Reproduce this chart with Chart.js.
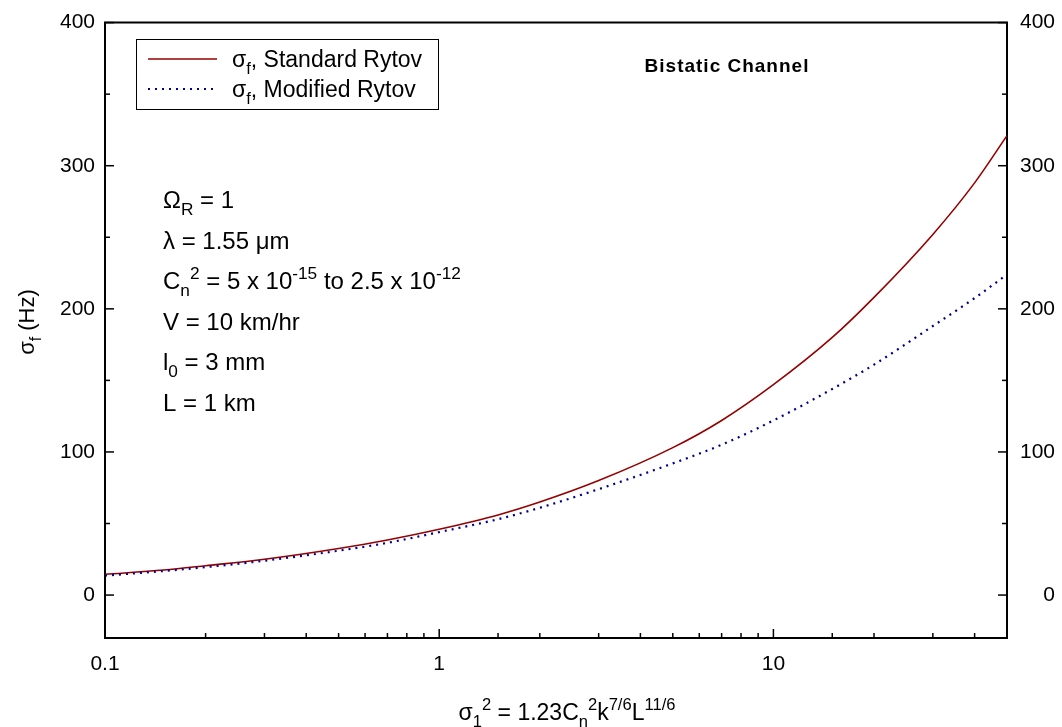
<!DOCTYPE html>
<html>
<head>
<meta charset="utf-8">
<script src="https://cdn.jsdelivr.net/npm/chart.js@4.4.1/dist/chart.umd.min.js"></script>
<style>
  html, body { margin: 0; padding: 0; background: #fff; }
  #wrap { width: 1062px; height: 727px; }
</style>
</head>
<body>
<div id="wrap"><canvas id="sigmaChart" width="1062" height="727"></canvas></div>
<script>
// Rytov variance sigma_1^2 (x axis, log)
const rytovVar = [0.1, 0.15, 0.2, 0.3, 0.5, 0.7, 1, 1.5, 2, 3, 5, 7, 10, 15, 20, 30, 40, 50];
// sigma_f in Hz for each model
const standardRytov = [14.5, 17.5, 20.5, 25, 32.5, 38.5, 46, 56, 65, 80, 103, 122, 147, 180, 208, 252, 288, 321];
const modifiedRytov = [13.6, 16.8, 19.5, 24, 31, 36.5, 44, 53, 61, 74, 92, 105, 122, 144, 161, 188, 207.5, 224];
const seriesNames = ['Standard Rytov', 'Modified Rytov'];
const yTicks = [0, 100, 200, 300, 400];
const xTickLabels = [0.1, 1, 10];

const FONT = '"Liberation Sans", Arial, sans-serif';

function isDecade(v) {
  const l = Math.log10(v);
  return Math.abs(l - Math.round(l)) < 1e-6;
}

// draws text pieces with sub/superscripts, returns width
function drawRich(ctx, parts, x, y, size, measureOnly) {
  let cx = x;
  parts.forEach(([txt, pos]) => {
    const s = pos ? size * 0.72 : size;
    ctx.font = `${s}px ${FONT}`;
    const dy = pos === 'sub' ? size * 0.3 : pos === 'sup' ? -size * 0.42 : 0;
    if (!measureOnly) ctx.fillText(txt, cx, y + dy);
    cx += ctx.measureText(txt).width;
  });
  return cx - x;
}

// inward ticks, top frame line, legend and the text blocks
const decorations = {
  id: 'decorations',
  afterDraw(chart) {
    const { ctx, chartArea: a, scales: { x, y } } = chart;
    ctx.save();
    ctx.strokeStyle = '#000';
    ctx.lineWidth = 2;
    ctx.beginPath();
    ctx.moveTo(a.left - 1, a.top);
    ctx.lineTo(a.right + 1, a.top);
    ctx.stroke();

    ctx.lineWidth = 1.5;
    const seg = (x1, y1, x2, y2) => { ctx.beginPath(); ctx.moveTo(x1, y1); ctx.lineTo(x2, y2); ctx.stroke(); };
    for (let v = 0; v <= 400; v += 50) {
      const py = y.getPixelForValue(v);
      const len = v % 100 === 0 ? 9 : 5;
      seg(a.left, py, a.left + len, py);
      seg(a.right, py, a.right - len, py);
    }
    x.ticks.forEach(t => {
      const px = x.getPixelForValue(t.value);
      seg(px, a.bottom, px, a.bottom - (isDecade(t.value) ? 9 : 5));
    });

    ctx.fillStyle = '#000';
    ctx.textBaseline = 'alphabetic';
    ctx.textAlign = 'left';

    // legend
    ctx.lineWidth = 1;
    ctx.strokeRect(136.5, 39.5, 302, 70);
    chart.data.datasets.forEach((ds, i) => {
      const ly = 59 + i * 30;
      ctx.save();
      ctx.strokeStyle = ds.borderColor;
      ctx.lineWidth = ds.borderWidth;
      ctx.setLineDash(ds.borderDash || []);
      seg(148, ly, 217, ly);
      ctx.restore();
      drawRich(ctx, [['σ'], ['f', 'sub'], [', ' + seriesNames[i]]], 232, ly + 8, 23);
    });

    // title
    ctx.font = `bold 19px ${FONT}`;
    ctx.letterSpacing = '1px';
    ctx.textAlign = 'center';
    ctx.textBaseline = 'middle';
    ctx.fillText('Bistatic Channel', 727, 67);
    ctx.letterSpacing = '0px';
    ctx.textAlign = 'left';
    ctx.textBaseline = 'alphabetic';

    // parameters
    const params = [
      [['Ω'], ['R', 'sub'], [' = 1']],
      [['λ = 1.55 μm']],
      [['C'], ['n', 'sub'], ['2', 'sup'], [' = 5 x 10'], ['-15', 'sup'], [' to 2.5 x 10'], ['-12', 'sup']],
      [['V = 10 km/hr']],
      [['l'], ['0', 'sub'], [' = 3 mm']],
      [['L = 1 km']]
    ];
    params.forEach((p, i) => drawRich(ctx, p, 163, 208 + i * 40.5, 24));

    // x axis title
    const xt = [['σ'], ['1', 'sub'], ['2', 'sup'], [' = 1.23C'], ['n', 'sub'], ['2', 'sup'], ['k'], ['7/6', 'sup'], ['L'], ['11/6', 'sup']];
    const w = drawRich(ctx, xt, 0, 0, 23, true);
    drawRich(ctx, xt, 567 - w / 2, 720, 23);

    // y axis title
    ctx.save();
    ctx.translate(34, 322);
    ctx.rotate(-Math.PI / 2);
    const yt = [['σ'], ['f', 'sub'], [' (Hz)']];
    const wy = drawRich(ctx, yt, 0, 0, 22, true);
    drawRich(ctx, yt, -wy / 2, 0, 22);
    ctx.restore();

    ctx.restore();
  }
};

const yScale = (pos, width) => ({
  type: 'linear',
  position: pos,
  min: -30,
  max: 400,
  grid: { display: false, drawTicks: false },
  border: { display: true, color: '#000', width: 2 },
  ticks: {
    color: '#000',
    font: { family: FONT, size: 21 },
    padding: 10,
    crossAlign: pos === 'right' ? 'far' : 'near'
  },
  afterBuildTicks: s => { s.ticks = yTicks.map(v => ({ value: v })); },
  afterFit: s => { s.width = width; }
});

new Chart(document.getElementById('sigmaChart'), {
  type: 'line',
  data: {
    datasets: [
      {
        label: seriesNames[0],
        data: rytovVar.map((v, i) => ({ x: v, y: standardRytov[i] })),
        borderColor: '#950000',
        borderWidth: 1.6,
        pointRadius: 0,
        cubicInterpolationMode: 'monotone',
        order: 1
      },
      {
        label: seriesNames[1],
        data: rytovVar.map((v, i) => ({ x: v, y: modifiedRytov[i] })),
        borderColor: '#000090',
        borderWidth: 2.2,
        borderDash: [2, 5],
        pointRadius: 0,
        cubicInterpolationMode: 'monotone',
        order: 0
      }
    ]
  },
  options: {
    responsive: false,
    animation: false,
    layout: { padding: { top: 16, right: 7, left: 0, bottom: 0 } },
    scales: {
      x: {
        type: 'logarithmic',
        min: 0.1,
        max: 50,
        grid: { display: false, drawTicks: false },
        border: { display: true, color: '#000', width: 2 },
        ticks: {
          color: '#000',
          font: { family: FONT, size: 21 },
          padding: 14,
          maxRotation: 0,
          autoSkip: false,
          callback: v => (xTickLabels.some(t => Math.abs(t - v) < 1e-9) ? String(v) : '')
        },
        afterFit: s => { s.height = 89; }
      },
      y: yScale('left', 105),
      y2: yScale('right', 48)
    },
    plugins: {
      legend: { display: false },
      tooltip: { enabled: false }
    }
  },
  plugins: [decorations]
});
</script>
</body>
</html>
